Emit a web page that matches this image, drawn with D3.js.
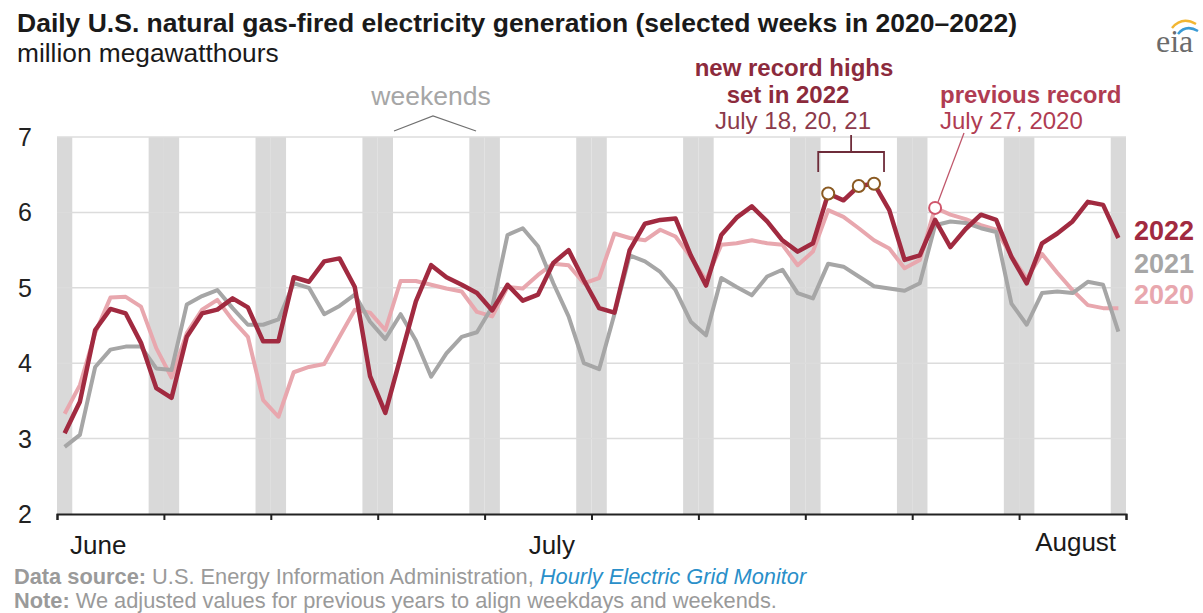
<!DOCTYPE html>
<html>
<head>
<meta charset="utf-8">
<script src="https://cdn.jsdelivr.net/npm/d3@7"></script>
<style>
  body { margin: 0; background: #fff; }
  svg { font-family: "Liberation Sans", Arial, sans-serif; display: block; }
</style>
</head>
<body>
<script>
let W = 1203;
let H = 613;

// days 0..69 (Sunday to Saturday, ten weeks)
let gen2022 = [3.07, 3.49, 4.44, 4.72, 4.66, 4.27, 3.67, 3.54, 4.35, 4.66,
  4.71, 4.86, 4.74, 4.29, 4.29, 5.14, 5.08, 5.35, 5.39, 5.01,
  3.83, 3.34, 4.08, 4.82, 5.30, 5.14, 5.04, 4.93, 4.70, 5.04,
  4.83, 4.91, 5.33, 5.50, 5.10, 4.73, 4.67, 5.50, 5.85, 5.90,
  5.92, 5.43, 5.03, 5.70, 5.93, 6.08, 5.88, 5.63, 5.48, 5.59,
  6.25, 6.16, 6.35, 6.38, 6.03, 5.37, 5.43, 5.90, 5.54, 5.78,
  5.97, 5.90, 5.41, 5.06, 5.59, 5.72, 5.88, 6.14, 6.10, 5.66];
let gen2021 = [2.89, 3.05, 3.95, 4.18, 4.22, 4.22, 3.93, 3.91, 4.78, 4.89,
  4.97, 4.73, 4.51, 4.51, 4.58, 5.06, 5.00, 4.65, 4.76, 4.91,
  4.55, 4.32, 4.65, 4.30, 3.82, 4.13, 4.35, 4.41, 4.75, 5.70,
  5.79, 5.55, 5.06, 4.62, 4.00, 3.92, 4.65, 5.43, 5.35, 5.21,
  4.97, 4.55, 4.37, 5.13, 5.01, 4.90, 5.15, 5.24, 4.93, 4.86,
  5.32, 5.28, 5.15, 5.02, 4.99, 4.96, 5.06, 5.83, 5.88, 5.86,
  5.79, 5.74, 4.79, 4.51, 4.93, 4.95, 4.93, 5.08, 5.04, 4.42];
let gen2020 = [3.33, 3.71, 4.40, 4.87, 4.88, 4.75, 4.20, 3.81, 4.40, 4.71,
  4.84, 4.57, 4.35, 3.51, 3.29, 3.88, 3.95, 3.99, 4.35, 4.71,
  4.67, 4.44, 5.09, 5.09, 5.04, 4.99, 4.95, 4.68, 4.62, 5.01,
  4.99, 5.17, 5.32, 5.30, 5.06, 5.13, 5.72, 5.66, 5.63, 5.77,
  5.68, 5.41, 5.10, 5.57, 5.59, 5.63, 5.59, 5.57, 5.30, 5.48,
  6.03, 5.94, 5.79, 5.63, 5.52, 5.26, 5.37, 6.06, 5.97, 5.91,
  5.83, 5.77, 5.42, 5.12, 5.45, 5.20, 4.97, 4.77, 4.73, 4.73];

let weekendDays = [0, 6, 7, 13, 14, 20, 21, 27, 28, 34, 35, 41, 42, 48, 49, 55, 56, 62, 63, 69];
let weekTicks = [0, 7, 14, 21, 28, 35, 42, 49, 56, 63, 70];
let yTicks = [2, 3, 4, 5, 6, 7];
let monthLabels = [["June", 2.7], ["July", 32.4], ["August", 66.7]];
let recordDays = [50, 52, 53];   // July 18, 20, 21 2022
let prevRecordDay = 57;          // July 27 2020 (aligned)

let colors = { y2022: "#a12a40", y2021: "#a6a6a6", y2020: "#e8a7ae" };

let svg = d3.select("body").append("svg")
  .attr("width", W).attr("height", H);

let x = d3.scaleLinear().domain([0, 70]).range([57, 1126]);
let y = d3.scaleLinear().domain([2, 7]).range([514, 137]);
let cx = i => x(i + 0.5);

// titles
svg.append("text").text("Daily U.S. natural gas-fired electricity generation (selected weeks in 2020\u20132022)")
  .attr("x", 17).attr("y", 32).attr("font-size", 26.5).attr("font-weight", "bold").attr("fill", "#1a1a1a");
svg.append("text").text("million megawatthours")
  .attr("x", 17).attr("y", 62).attr("font-size", 26.3).attr("fill", "#1a1a1a");

// eia logo
let logo = svg.append("g").attr("transform", "translate(1156,52)");
logo.append("text").text("eia").attr("x", 0).attr("y", 0)
  .attr("font-family", "Liberation Serif, serif").attr("font-size", 32).attr("fill", "#6b6b6b");
logo.append("path").attr("d", "M16,-24 Q26,-36 40,-28").attr("fill", "none").attr("stroke", "#f2b632").attr("stroke-width", 2.5);
logo.append("path").attr("d", "M22,-18 Q30,-28 42,-21").attr("fill", "none").attr("stroke", "#3a9bd5").attr("stroke-width", 2.5);

// weekend bands
svg.append("g").selectAll("rect").data(weekendDays).enter().append("rect")
  .attr("x", d => x(d)).attr("width", d => x(d + 1) - x(d))
  .attr("y", y(7)).attr("height", y(2) - y(7))
  .attr("fill", "#d9d9d9");

// grid
svg.append("g").selectAll("line").data(yTicks.filter(d => d > 2)).enter().append("line")
  .attr("x1", x(0)).attr("x2", x(70))
  .attr("y1", d => y(d)).attr("y2", d => y(d))
  .attr("stroke", "#dcdcdc").attr("stroke-width", 1.5);

// y labels
svg.append("g").selectAll("text").data(yTicks).enter().append("text")
  .text(d => d)
  .attr("x", 25).attr("y", d => y(d) + 9)
  .attr("text-anchor", "middle").attr("font-size", 25).attr("fill", "#222");

// x axis
let xAxis = svg.append("g")
  .attr("transform", "translate(0," + y(2) + ")")
  .call(d3.axisBottom(x).tickValues(weekTicks).tickFormat("").tickSize(6).tickSizeOuter(6));
xAxis.select(".domain").attr("stroke", "#222").attr("stroke-width", 2);
xAxis.selectAll(".tick line").attr("stroke", "#222").attr("stroke-width", 2);

svg.append("g").selectAll("text").data(monthLabels).enter().append("text")
  .text(d => d[0])
  .attr("x", d => x(d[1])).attr("y", (d, i) => i == 2 ? 551 : 554)
  .attr("text-anchor", "middle").attr("font-size", 26).attr("fill", "#1a1a1a");

// lines
let line = d3.line().x((d, i) => cx(i)).y(d => y(d));
let series = [
  { key: "2020", values: gen2020, color: colors.y2020, w: 4 },
  { key: "2021", values: gen2021, color: colors.y2021, w: 4 },
  { key: "2022", values: gen2022, color: colors.y2022, w: 4.5 }
];
series.forEach(s => {
  svg.append("path").datum(s.values)
    .attr("d", line)
    .attr("fill", "none").attr("stroke", s.color).attr("stroke-width", s.w)
    .attr("stroke-linejoin", "round");
});

// legend labels
let legend = [["2022", colors.y2022, 240], ["2021", colors.y2021, 273], ["2020", colors.y2020, 304]];
svg.append("g").selectAll("text").data(legend).enter().append("text")
  .text(d => d[0]).attr("x", 1134).attr("y", d => d[2])
  .attr("font-size", 27).attr("font-weight", "bold").attr("fill", d => d[1]);

// weekends annotation
svg.append("text").text("weekends").attr("x", 431).attr("y", 105)
  .attr("text-anchor", "middle").attr("font-size", 26.5).attr("fill", "#a6a6a6");
svg.append("path")
  .attr("d", "M" + x(22.07) + ",131 L" + x(24.62) + ",116 L" + x(27.44) + ",131")
  .attr("fill", "none").attr("stroke", "#707070").attr("stroke-width", 1.2);

// record highs annotation
let recColor = "#8c2a3c";
let recAnno = svg.append("g").attr("text-anchor", "middle").attr("fill", recColor).attr("font-size", 24);
recAnno.append("text").text("new record highs").attr("x", 794).attr("y", 76).attr("font-weight", "bold");
recAnno.append("text").text("set in 2022").attr("x", 788).attr("y", 103).attr("font-weight", "bold");
recAnno.append("text").text("July 18, 20, 21").attr("x", 793).attr("y", 129).attr("fill", "#8c3a4a");

let bx0 = cx(recordDays[0]) - 10, bx1 = cx(recordDays[2]) + 10, bmid = (bx0 + bx1) / 2;
svg.append("path")
  .attr("d", "M" + bx0 + ",172 L" + bx0 + ",152 L" + bx1 + ",152 L" + bx1 + ",172 M" + bmid + ",152 L" + bmid + ",135")
  .attr("fill", "none").attr("stroke", "#6e2c3a").attr("stroke-width", 1.8);

svg.append("g").selectAll("circle").data(recordDays).enter().append("circle")
  .attr("cx", d => cx(d)).attr("cy", d => y(gen2022[d]))
  .attr("r", 6).attr("fill", "#fff").attr("stroke", "#8a5a22").attr("stroke-width", 2);

// previous record annotation
let prevColor = "#b03c52";
svg.append("text").text("previous record").attr("x", 940).attr("y", 103)
  .attr("font-size", 24).attr("font-weight", "bold").attr("fill", prevColor);
svg.append("text").text("July 27, 2020").attr("x", 940).attr("y", 129)
  .attr("font-size", 24).attr("fill", prevColor);
svg.append("line")
  .attr("x1", 964).attr("y1", 133)
  .attr("x2", cx(prevRecordDay) + 3).attr("y2", y(gen2020[prevRecordDay]) - 6)
  .attr("stroke", "#c0566a").attr("stroke-width", 1.3);
svg.append("circle")
  .attr("cx", cx(prevRecordDay)).attr("cy", y(gen2020[prevRecordDay]))
  .attr("r", 6).attr("fill", "#fff").attr("stroke", "#d0566c").attr("stroke-width", 2);

// footer
let foot = svg.append("g").attr("font-size", 21.8).attr("fill", "#9a9a9a");
let f1 = foot.append("text").attr("x", 14).attr("y", 584);
f1.append("tspan").text("Data source: ").attr("font-weight", "bold");
f1.append("tspan").text("U.S. Energy Information Administration, ");
f1.append("tspan").text("Hourly Electric Grid Monitor").attr("font-style", "italic").attr("fill", "#2a8fc9");
let f2 = foot.append("text").attr("x", 14).attr("y", 608);
f2.append("tspan").text("Note: ").attr("font-weight", "bold");
f2.append("tspan").text("We adjusted values for previous years to align weekdays and weekends.");
</script>
</body>
</html>
